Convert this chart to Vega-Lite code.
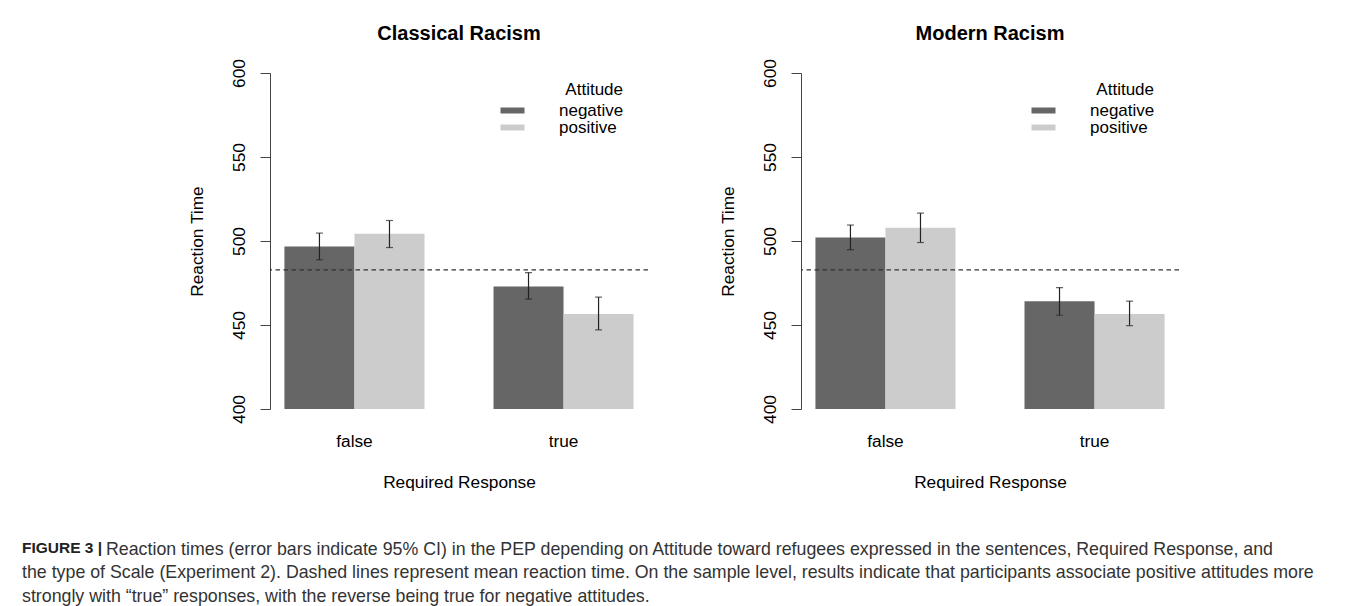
{
  "$schema": "https://vega.github.io/schema/vega-lite/v6.json",
  "padding": {"left": 22, "top": 23, "right": 0, "bottom": 0},
  "config": {
    "font": "Liberation Sans",
    "view": {"stroke": null},
    "axis": {"labelFont": "Liberation Sans", "titleFont": "Liberation Sans", "labelColor": "#000", "titleColor": "#000", "labelFontSize": 17.3, "titleFontSize": 17.3, "titleFontWeight": "normal", "domainColor": "#444", "tickColor": "#444", "grid": false}
  },
  "datasets": {
    "bars": [
      {"scale": "Classical Racism", "response": "false", "attitude": "negative", "rt": 496.7, "lo": 488.8, "hi": 504.7},
      {"scale": "Classical Racism", "response": "false", "attitude": "positive", "rt": 504.3, "lo": 496.1, "hi": 512.2},
      {"scale": "Classical Racism", "response": "true", "attitude": "negative", "rt": 472.9, "lo": 465.4, "hi": 481.2},
      {"scale": "Classical Racism", "response": "true", "attitude": "positive", "rt": 456.6, "lo": 447.1, "hi": 466.6},
      {"scale": "Modern Racism", "response": "false", "attitude": "negative", "rt": 502.1, "lo": 494.8, "hi": 509.5},
      {"scale": "Modern Racism", "response": "false", "attitude": "positive", "rt": 507.9, "lo": 499.1, "hi": 516.6},
      {"scale": "Modern Racism", "response": "true", "attitude": "negative", "rt": 464.2, "lo": 455.8, "hi": 472.3},
      {"scale": "Modern Racism", "response": "true", "attitude": "positive", "rt": 456.6, "lo": 449.6, "hi": 464.2}
    ],
    "means": [
      {"scale": "Classical Racism", "mean": 482.8},
      {"scale": "Modern Racism", "mean": 482.8}
    ]
  },
  "title": {
    "text": "FIGURE 3 |",
    "subtitle": [
      "\u200b\u00a0\u00a0\u00a0\u00a0\u00a0\u00a0\u00a0\u00a0\u00a0\u00a0\u00a0\u00a0\u00a0\u00a0\u00a0\u00a0\u00a0Reaction times (error bars indicate 95% CI) in the PEP depending on Attitude toward refugees expressed in the sentences, Required Response, and",
      "the type of Scale (Experiment 2). Dashed lines represent mean reaction time. On the sample level, results indicate that participants associate positive attitudes more",
      "strongly with \u201ctrue\u201d responses, with the reverse being true for negative attitudes."
    ],
    "orient": "bottom",
    "anchor": "start",
    "frame": "bounds",
    "offset": 50,
    "dx": -166,
    "font": "Liberation Sans",
    "fontSize": 15.5,
    "fontWeight": "bold",
    "color": "#222",
    "subtitleFont": "Liberation Sans",
    "subtitleFontSize": 17.8,
    "subtitleColor": "#333",
    "subtitleFontWeight": "normal",
    "subtitleLineHeight": 23.5,
    "subtitlePadding": -15.5
  },
  "spacing": 70,
  "resolve": {"legend": {"color": "independent"}},
  "hconcat": [
    {
      "title": {"text": "Classical Racism", "fontSize": 20, "fontWeight": "bold", "offset": 15, "anchor": "middle", "color": "#000"},
      "width": 378,
      "height": 336,
      "layer": [
        {
          "data": {"name": "bars"},
          "transform": [{"filter": "datum.scale == 'Classical Racism'"}],
          "mark": {"type": "bar"},
          "encoding": {
            "x": {"field": "response", "type": "nominal", "title": "Required Response", "scale": {"paddingInner": 0.33, "paddingOuter": 0.069}, "axis": {"domain": false, "ticks": false, "tickSize": 0, "labelPadding": 23, "labelAngle": 0, "titlePadding": 24}},
            "xOffset": {"field": "attitude", "type": "nominal", "scale": {"paddingInner": 0, "paddingOuter": 0}},
            "y": {"field": "rt", "type": "quantitative", "title": "Reaction Time", "scale": {"domain": [400, 600], "nice": false, "zero": false}, "axis": {"values": [400, 450, 500, 550, 600], "labelAngle": -90, "labelAlign": "center", "labelBaseline": "alphabetic", "labelPadding": 16, "tickSize": 10, "titlePadding": 24}},
            "y2": {"datum": 400},
            "color": {"field": "attitude", "type": "nominal", "scale": {"domain": ["negative", "positive"], "range": ["#666666", "#cccccc"]}, "legend": {"orient": "none", "legendX": 234, "legendY": 9, "padding": 0, "title": "Attitude", "titleFontSize": 17, "titleFontWeight": "normal", "titleColor": "#000", "titleAnchor": "end", "titlePadding": 3, "labelFontSize": 17, "labelColor": "#000", "labelOffset": 38, "symbolType": "M-2,-0.5H2V0.5H-2Z", "symbolSize": 144, "symbolStrokeWidth": 0, "rowPadding": -2}}
          }
        },
        {
          "data": {"name": "bars"},
          "transform": [{"filter": "datum.scale == 'Classical Racism'"}],
          "mark": {"type": "rule", "color": "#222", "strokeWidth": 1.2},
          "encoding": {
            "x": {"field": "response", "type": "nominal"},
            "xOffset": {"field": "attitude", "type": "nominal"},
            "y": {"field": "lo", "type": "quantitative", "title": "Reaction Time"},
            "y2": {"field": "hi"}
          }
        },
        {
          "data": {"name": "bars"},
          "transform": [{"filter": "datum.scale == 'Classical Racism'"}],
          "mark": {"type": "tick", "orient": "horizontal", "size": 7, "thickness": 1.2, "color": "#222"},
          "encoding": {
            "x": {"field": "response", "type": "nominal"},
            "xOffset": {"field": "attitude", "type": "nominal"},
            "y": {"field": "lo", "type": "quantitative", "title": "Reaction Time"}
          }
        },
        {
          "data": {"name": "bars"},
          "transform": [{"filter": "datum.scale == 'Classical Racism'"}],
          "mark": {"type": "tick", "orient": "horizontal", "size": 7, "thickness": 1.2, "color": "#222"},
          "encoding": {
            "x": {"field": "response", "type": "nominal"},
            "xOffset": {"field": "attitude", "type": "nominal"},
            "y": {"field": "hi", "type": "quantitative", "title": "Reaction Time"}
          }
        },
        {
          "data": {"name": "means"},
          "transform": [{"filter": "datum.scale == 'Classical Racism'"}],
          "mark": {"type": "rule", "color": "#333", "strokeWidth": 1.1, "strokeDash": [4.5, 3.5]},
          "encoding": {
            "y": {"field": "mean", "type": "quantitative", "title": "Reaction Time"}
          }
        }
      ]
    },
    {
      "title": {"text": "Modern Racism", "fontSize": 20, "fontWeight": "bold", "offset": 15, "anchor": "middle", "color": "#000"},
      "width": 378,
      "height": 336,
      "layer": [
        {
          "data": {"name": "bars"},
          "transform": [{"filter": "datum.scale == 'Modern Racism'"}],
          "mark": {"type": "bar"},
          "encoding": {
            "x": {"field": "response", "type": "nominal", "title": "Required Response", "scale": {"paddingInner": 0.33, "paddingOuter": 0.069}, "axis": {"domain": false, "ticks": false, "tickSize": 0, "labelPadding": 23, "labelAngle": 0, "titlePadding": 24}},
            "xOffset": {"field": "attitude", "type": "nominal", "scale": {"paddingInner": 0, "paddingOuter": 0}},
            "y": {"field": "rt", "type": "quantitative", "title": "Reaction Time", "scale": {"domain": [400, 600], "nice": false, "zero": false}, "axis": {"values": [400, 450, 500, 550, 600], "labelAngle": -90, "labelAlign": "center", "labelBaseline": "alphabetic", "labelPadding": 16, "tickSize": 10, "titlePadding": 24}},
            "y2": {"datum": 400},
            "color": {"field": "attitude", "type": "nominal", "scale": {"domain": ["negative", "positive"], "range": ["#666666", "#cccccc"]}, "legend": {"orient": "none", "legendX": 234, "legendY": 9, "padding": 0, "title": "Attitude", "titleFontSize": 17, "titleFontWeight": "normal", "titleColor": "#000", "titleAnchor": "end", "titlePadding": 3, "labelFontSize": 17, "labelColor": "#000", "labelOffset": 38, "symbolType": "M-2,-0.5H2V0.5H-2Z", "symbolSize": 144, "symbolStrokeWidth": 0, "rowPadding": -2}}
          }
        },
        {
          "data": {"name": "bars"},
          "transform": [{"filter": "datum.scale == 'Modern Racism'"}],
          "mark": {"type": "rule", "color": "#222", "strokeWidth": 1.2},
          "encoding": {
            "x": {"field": "response", "type": "nominal"},
            "xOffset": {"field": "attitude", "type": "nominal"},
            "y": {"field": "lo", "type": "quantitative", "title": "Reaction Time"},
            "y2": {"field": "hi"}
          }
        },
        {
          "data": {"name": "bars"},
          "transform": [{"filter": "datum.scale == 'Modern Racism'"}],
          "mark": {"type": "tick", "orient": "horizontal", "size": 7, "thickness": 1.2, "color": "#222"},
          "encoding": {
            "x": {"field": "response", "type": "nominal"},
            "xOffset": {"field": "attitude", "type": "nominal"},
            "y": {"field": "lo", "type": "quantitative", "title": "Reaction Time"}
          }
        },
        {
          "data": {"name": "bars"},
          "transform": [{"filter": "datum.scale == 'Modern Racism'"}],
          "mark": {"type": "tick", "orient": "horizontal", "size": 7, "thickness": 1.2, "color": "#222"},
          "encoding": {
            "x": {"field": "response", "type": "nominal"},
            "xOffset": {"field": "attitude", "type": "nominal"},
            "y": {"field": "hi", "type": "quantitative", "title": "Reaction Time"}
          }
        },
        {
          "data": {"name": "means"},
          "transform": [{"filter": "datum.scale == 'Modern Racism'"}],
          "mark": {"type": "rule", "color": "#333", "strokeWidth": 1.1, "strokeDash": [4.5, 3.5]},
          "encoding": {
            "y": {"field": "mean", "type": "quantitative", "title": "Reaction Time"}
          }
        }
      ]
    }
  ]
}
